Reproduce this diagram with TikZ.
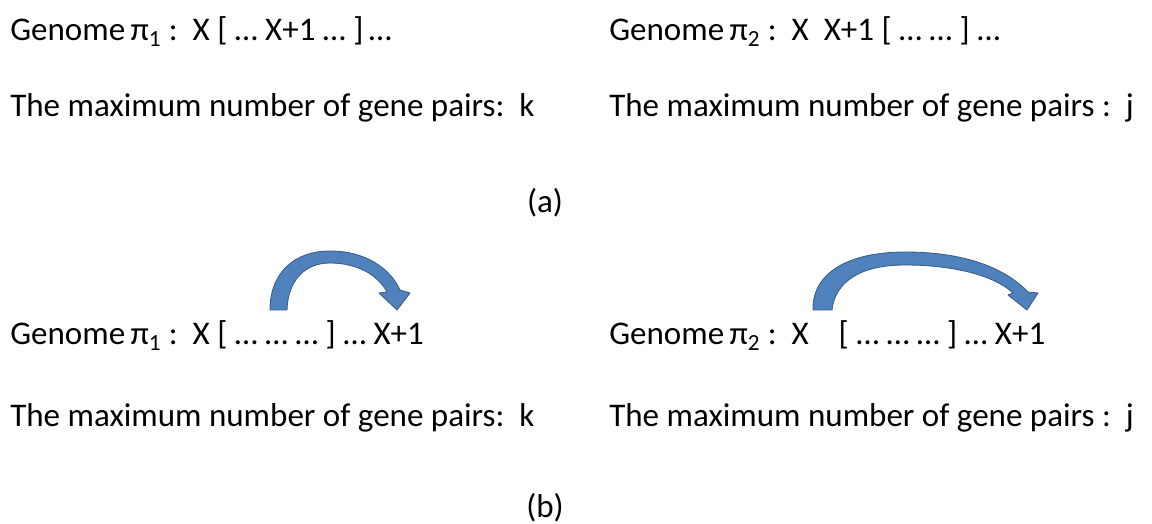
\documentclass[tikz,border=0pt]{standalone}
\usepackage{fontspec}
\setmainfont{Carlito}
\usetikzlibrary{arrows.meta, positioning}
\definecolor{bendfill}{HTML}{4F81BD}
\definecolor{bendline}{HTML}{385D8A}

\begin{document}
\begin{tikzpicture}[x=0.025cm, y=-0.025cm,
  txt/.style={anchor=base west, inner sep=0pt, font=\fontsize{23.5}{28}\selectfont},
  tag/.style={anchor=base, inner sep=0pt, font=\fontsize{23.5}{28}\selectfont},
  bendarrow/.style={fill=bendfill, draw=bendline, line width=0.6pt, line join=round}
]
\useasboundingbox (0,0) rectangle (1152,524);

\node[txt] (genomeA1) at (10,41) {Genome\,π\textsubscript{1} :\ \ X [ … X+1 … ]\,…};
\node[txt] (pairsA1) at (10,117) {The maximum number of gene pairs:\ \ k};
\node[txt] (genomeA2) at (609,41) {Genome\,π\textsubscript{2} :\ \ X\ \ X+1 [ … … ] …};
\node[txt] (pairsA2) at (609,117) {The maximum number of gene pairs :\ \ j};
\node[tag] (capA) at (545,213) {(a)};

\node[txt] (genomeB1) at (10,345) {Genome\,π\textsubscript{1} :\ \ X [ … … … ] … X+1};
\node[txt] (pairsB1) at (10,427) {The maximum number of gene pairs:\ \ k};
\node[txt] (genomeB2) at (609,345) {Genome\,π\textsubscript{2} :\ \ X\ \ \ \ [ … … … ] … X+1};
\node[txt] (pairsB2) at (609,427) {The maximum number of gene pairs :\ \ j};
\node[tag] (capB) at (545,517) {(b)};

\draw[bendarrow] (270,310) .. controls (270,272) and (295,251) .. (330,251)
  .. controls (365,251) and (390,268) .. (400,290) -- (410,293) -- (397,310)
  -- (379,293) -- (387,292) .. controls (378,275) and (357,263) .. (330,263)
  .. controls (305,263) and (288,280) .. (287,310) -- cycle;
\draw[bendarrow] (813,310) .. controls (812,272) and (850,252) .. (905,252)
  .. controls (965,252) and (1005,268) .. (1028,292) -- (1038,293) -- (1027,310)
  -- (1008,295) -- (1013,293) .. controls (995,276) and (955,265) .. (905,265)
  .. controls (860,265) and (835,282) .. (832,310) -- cycle;
\end{tikzpicture}
\end{document}
